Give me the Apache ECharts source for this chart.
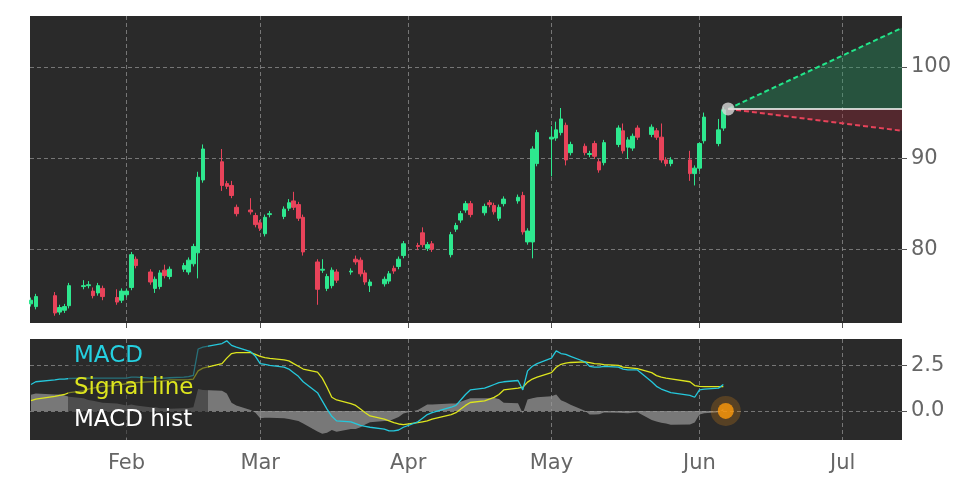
<!DOCTYPE html>
<html><head><meta charset="utf-8">
<script src="https://cdn.jsdelivr.net/npm/echarts@6/dist/echarts.min.js"></script>
<style>html,body{margin:0;background:#fff}#c{width:972px;height:486px}</style>
</head><body><div id="c"></div>
<script>
const dates=['2023-01-12','2023-01-13','2023-01-17','2023-01-18','2023-01-19','2023-01-20','2023-01-23','2023-01-24','2023-01-25','2023-01-26','2023-01-27','2023-01-30','2023-01-31',
'2023-02-01','2023-02-02','2023-02-03','2023-02-06','2023-02-07','2023-02-08','2023-02-09','2023-02-10','2023-02-13','2023-02-14','2023-02-15','2023-02-16','2023-02-17','2023-02-21','2023-02-22','2023-02-23','2023-02-24','2023-02-27','2023-02-28',
'2023-03-01','2023-03-02','2023-03-03','2023-03-06','2023-03-07','2023-03-08','2023-03-09','2023-03-10','2023-03-13','2023-03-14','2023-03-15','2023-03-16','2023-03-17','2023-03-20','2023-03-21','2023-03-22','2023-03-23','2023-03-24','2023-03-27','2023-03-28','2023-03-29','2023-03-30','2023-03-31',
'2023-04-03','2023-04-04','2023-04-05','2023-04-06','2023-04-10','2023-04-11','2023-04-12','2023-04-13','2023-04-14','2023-04-17','2023-04-18','2023-04-19','2023-04-20','2023-04-21','2023-04-24','2023-04-25','2023-04-26','2023-04-27','2023-04-28',
'2023-05-01','2023-05-02','2023-05-03','2023-05-04','2023-05-05','2023-05-08','2023-05-09','2023-05-10','2023-05-11','2023-05-12','2023-05-15','2023-05-16','2023-05-17','2023-05-18','2023-05-19','2023-05-22','2023-05-23','2023-05-24','2023-05-25','2023-05-26','2023-05-30','2023-05-31',
'2023-06-01','2023-06-02','2023-06-05','2023-06-06'];
const opens=[74.0,73.7,74.9,73.1,73.3,73.8,75.9,76.0,75.4,75.2,75.7,74.7,74.4,
75.0,75.8,78.9,77.5,75.7,75.9,77.7,77.0,77.8,77.5,78.4,79.6,87.6,89.6,87.2,87.0,84.6,84.3,83.7,
82.9,81.7,83.8,83.6,84.5,85.3,84.9,83.5,78.6,77.7,75.7,76.0,77.5,77.5,78.9,78.8,77.4,76.0,76.2,76.5,77.9,78.1,79.3,
80.4,81.8,80.1,80.6,79.4,82.2,83.2,84.3,85.0,84.0,85.1,84.8,83.4,85.0,85.3,85.9,80.8,80.8,89.4,
92.1,92.2,92.8,93.6,90.6,91.3,90.4,91.6,89.6,89.5,91.5,93.0,91.2,91.1,93.3,92.6,93.0,92.3,89.8,89.4,89.8,88.3,
88.9,91.9,91.6,93.3];
const closes=[74.4,74.8,73.0,73.6,73.7,76.0,76.0,76.1,74.9,76.0,74.8,74.2,75.4,
75.4,79.4,78.2,76.4,76.7,77.4,77.1,77.8,78.2,78.8,80.3,87.9,91.0,87.0,86.9,85.9,83.9,84.1,82.7,
82.3,83.5,83.9,84.4,85.1,84.6,83.4,79.7,75.6,77.8,77.0,77.7,76.6,77.6,78.6,77.3,76.4,76.4,76.7,77.3,77.6,78.9,80.6,
80.3,80.5,80.5,80.0,81.6,82.6,83.9,85.0,83.8,84.7,84.9,84.1,84.6,85.5,85.7,81.9,82.0,91.0,92.8,
92.3,93.1,94.3,89.8,91.5,90.6,90.5,90.2,88.7,91.7,93.3,90.8,92.0,92.4,92.3,93.4,92.3,89.8,89.4,89.8,88.3,88.9,
91.6,94.5,93.1,95.3];
const lows=[73.7,73.4,72.7,72.8,73.0,73.5,75.6,75.7,74.6,74.9,74.4,73.9,74.1,
74.7,75.5,77.9,76.1,75.2,75.6,76.8,76.7,77.5,77.2,78.1,76.8,87.3,86.4,86.6,85.6,83.6,83.8,82.4,
82.0,81.4,83.5,83.3,84.2,84.3,83.1,79.3,73.9,77.4,75.4,75.7,76.3,77.2,78.3,77.0,76.1,75.3,75.9,76.2,77.3,77.8,79.0,
79.9,80.2,79.8,79.7,79.1,81.9,82.9,84.0,83.5,83.7,84.6,83.8,83.1,84.7,85.0,81.6,80.5,79.0,89.1,
88.0,91.9,92.5,89.2,90.3,90.3,90.1,89.9,88.4,89.2,91.2,90.5,89.9,90.8,92.0,92.3,92.0,89.5,89.1,89.1,87.5,87.0,
88.6,91.6,91.3,93.0];
const highs=[74.7,75.1,75.3,73.9,74.0,76.3,76.6,76.5,75.8,76.3,76.0,75.6,75.7,
75.7,79.7,79.2,77.8,77.0,77.7,78.3,78.1,78.5,79.1,80.6,88.5,91.5,91.0,87.5,87.5,84.9,85.6,84.0,
83.2,83.8,84.2,84.7,85.5,86.3,85.2,83.8,78.9,78.9,77.3,78.0,77.8,77.9,79.3,79.1,77.7,76.7,77.0,77.6,78.2,79.2,80.9,
80.7,82.4,80.8,80.9,81.9,82.9,84.2,85.3,85.3,85.0,85.4,85.1,84.9,85.8,86.0,86.3,82.3,91.3,93.1,
93.5,94.0,95.5,93.9,91.8,91.6,90.8,91.9,89.9,92.0,93.6,93.8,92.3,92.7,93.6,93.7,93.3,93.8,90.1,90.1,90.8,89.2,
91.7,95.0,94.3,95.6];
const macd=[1.45,1.6,1.7,1.75,1.75,1.78,1.8,1.8,1.8,1.8,1.8,1.8,1.8,
1.8,1.85,1.85,1.8,1.8,1.8,1.8,1.82,1.85,1.88,1.95,3.4,3.5,3.7,3.85,3.6,3.5,3.25,3.0,
2.6,2.55,2.5,2.4,2.3,2.1,1.9,1.6,1.0,0.55,0.1,-0.3,-0.55,-0.6,-0.7,-0.8,-0.85,-0.9,-1.0,-1.1,-1.1,-1.05,-0.9,
-0.6,-0.4,-0.2,-0.1,0.2,0.3,0.6,0.9,1.15,1.25,1.35,1.45,1.55,1.6,1.67,1.15,2.2,2.45,2.6,
2.9,3.3,3.15,3.1,3.0,2.7,2.45,2.4,2.4,2.45,2.4,2.3,2.25,2.25,2.25,1.6,1.35,1.2,1.1,1.0,0.85,0.75,
1.15,1.2,1.25,1.45];
const signal=[0.56,0.65,0.8,0.85,0.9,1.0,1.1,1.2,1.25,1.3,1.35,1.4,1.45,
1.5,1.5,1.55,1.6,1.6,1.65,1.65,1.7,1.7,1.72,1.75,2.2,2.35,2.6,2.9,3.15,3.2,3.2,3.1,
3.0,2.93,2.88,2.8,2.75,2.6,2.45,2.3,2.13,1.8,1.3,0.75,0.6,0.4,0.3,0.1,-0.1,-0.28,-0.45,-0.55,-0.65,-0.72,-0.75,
-0.65,-0.6,-0.55,-0.45,-0.2,-0.1,0.1,0.3,0.46,0.55,0.65,0.74,0.9,1.15,1.25,1.3,1.58,1.75,1.85,
2.1,2.4,2.56,2.62,2.66,2.69,2.65,2.6,2.58,2.54,2.5,2.41,2.38,2.35,2.32,2.1,1.94,1.85,1.8,1.76,1.6,1.39,
1.35,1.33,1.33,1.33];
const hist=[0.89,0.95,0.9,0.9,0.85,0.78,0.7,0.6,0.55,0.5,0.45,0.4,0.35,
0.3,0.35,0.3,0.2,0.2,0.15,0.15,0.12,0.15,0.16,0.2,1.2,1.15,1.1,0.95,0.45,0.3,0.05,-0.1,
-0.4,-0.38,-0.38,-0.4,-0.45,-0.5,-0.55,-0.7,-1.13,-1.25,-1.2,-1.05,-1.15,-1.0,-1.0,-0.9,-0.75,-0.62,-0.55,-0.55,-0.45,-0.33,-0.15,
0.05,0.2,0.35,0.35,0.4,0.4,0.5,0.6,0.69,0.7,0.7,0.71,0.65,0.45,0.42,-0.15,0.62,0.7,0.75,
0.8,0.9,0.59,0.48,0.34,0.01,-0.2,-0.2,-0.18,-0.09,-0.1,-0.11,-0.13,-0.1,-0.07,-0.5,-0.59,-0.65,-0.7,-0.76,-0.75,-0.64,
-0.2,-0.13,-0.08,0.12];
const forecastStart=['2023-06-07',95.4];
const forecastEnd='2023-07-13 10:00';
const forecastUp=104.3, forecastDown=93.0;
const priceTicks=[80,90,100];
const macdTicks=[0,2.5];
const monthTicks=['2023-02-01','2023-03-01','2023-04-01','2023-05-01','2023-06-01','2023-07-01'];
const monthNames=['Jan','Feb','Mar','Apr','May','Jun','Jul','Aug'];

const ts=d=>+new Date(d.length===10?d+'T00:00:00':d.replace(' ','T')+':00');
const axMin=ts('2023-01-11 19:00'), axMax=ts('2023-07-13 10:00');
const monthStarts=monthTicks.map(ts);

const candle=dates.map((d,i)=>[ts(d),opens[i],closes[i],lows[i],highs[i]]);
const fx0=ts(forecastStart[0]), fx1=ts(forecastEnd);
const LC='#666';
const grid=(o)=>Object.assign({left:30,right:70,show:true,backgroundColor:'#2a2a2a',borderWidth:0},o);
const xa=(gi,show)=>({type:'value',gridIndex:gi,min:axMin,max:axMax,
  axisLine:{show:false},
  axisTick:{show:true,customValues:monthStarts,length:5,lineStyle:{color:'#555'}},
  splitLine:{show:true,lineStyle:{color:'#8a8a8a',type:[4,3],width:0.8}},
  axisLabel:{show:show,customValues:monthStarts,color:LC,fontSize:21,fontFamily:'DejaVu Sans',margin:13,
    formatter:v=>monthNames[new Date(v).getMonth()]}});
const ya=(gi,min,max,ticks,fmt)=>({type:'value',gridIndex:gi,position:'right',min:min,max:max,
  axisLine:{show:false},
  axisTick:{show:true,customValues:ticks,length:5,lineStyle:{color:'#555'}},
  splitLine:{show:true,lineStyle:{color:'#8a8a8a',type:[4,3],width:0.8}},
  axisLabel:{customValues:ticks,color:LC,fontSize:21,fontFamily:'DejaVu Sans',margin:9,formatter:fmt}});

const ch=echarts.init(document.getElementById('c'));
ch.setOption({
  animation:false,
  backgroundColor:'#fff',
  grid:[grid({top:16,bottom:163}),grid({top:339,bottom:46})],
  xAxis:[xa(0,false),xa(1,true)],
  yAxis:[ya(0,71.9,105.6,priceTicks,v=>String(v)),ya(1,-1.6,3.95,macdTicks,v=>v.toFixed(1))],
  graphic:[
    {type:'rect',z:50,shape:{x:68,y:344,width:140,height:94},style:{fill:'rgba(42,42,42,0.55)'}},
    {type:'text',z:51,left:74,top:345,style:{text:'MACD',fill:'#25d0e0',fontSize:23,fontFamily:'DejaVu Sans'}},
    {type:'text',z:51,left:74,top:377,style:{text:'Signal line',fill:'#dde51e',fontSize:23,fontFamily:'DejaVu Sans'}},
    {type:'text',z:51,left:74,top:409,style:{text:'MACD hist',fill:'#ffffff',fontSize:23,fontFamily:'DejaVu Sans'}}
  ],
  series:[
    {type:'line',xAxisIndex:0,yAxisIndex:0,data:[[fx0,forecastStart[1]],[fx1,forecastUp]],symbol:'none',
     lineStyle:{color:'#22e58a',type:[5,3],width:2},areaStyle:{origin:forecastStart[1],color:'rgba(34,160,100,0.5)'},z:3},
    {type:'line',xAxisIndex:0,yAxisIndex:0,data:[[fx0,forecastStart[1]],[fx1,forecastDown]],symbol:'none',
     lineStyle:{color:'#e8435a',type:[5,3],width:2},areaStyle:{origin:forecastStart[1],color:'rgba(150,40,55,0.55)'},z:3},
    {type:'line',xAxisIndex:0,yAxisIndex:0,data:[[fx0,forecastStart[1]],[fx1,forecastStart[1]]],symbol:'none',
     lineStyle:{color:'#ffffff',width:1.5},z:4},
    {type:'scatter',xAxisIndex:0,yAxisIndex:0,data:[[fx0,forecastStart[1]]],symbolSize:13,itemStyle:{color:'#d8d8d8'},z:6},
    {type:'candlestick',xAxisIndex:0,yAxisIndex:0,data:candle,barWidth:4,
     itemStyle:{color:'#2ee88f',color0:'#e8435a',borderColor:'#2ee88f',borderColor0:'#e8435a',borderWidth:1}},
    {type:'line',xAxisIndex:1,yAxisIndex:1,data:dates.map((d,i)=>[ts(d),hist[i]]),symbol:'none',
     lineStyle:{width:0},areaStyle:{origin:0,color:'#9a9a9a'},z:2},
    {type:'line',xAxisIndex:1,yAxisIndex:1,data:dates.map((d,i)=>[ts(d),signal[i]]),symbol:'none',
     lineStyle:{color:'#dde51e',width:1.3},z:3},
    {type:'line',xAxisIndex:1,yAxisIndex:1,data:dates.map((d,i)=>[ts(d),macd[i]]),symbol:'none',
     lineStyle:{color:'#25c8dc',width:1.3},z:4},
    {type:'scatter',xAxisIndex:1,yAxisIndex:1,data:[[fx0-43200000,0]],symbolSize:30,itemStyle:{color:'rgba(230,140,20,0.3)'},z:5},
    {type:'scatter',xAxisIndex:1,yAxisIndex:1,data:[[fx0-43200000,0]],symbolSize:16,itemStyle:{color:'#ff9a0a'},z:6}
  ]
});
</script></body></html>
